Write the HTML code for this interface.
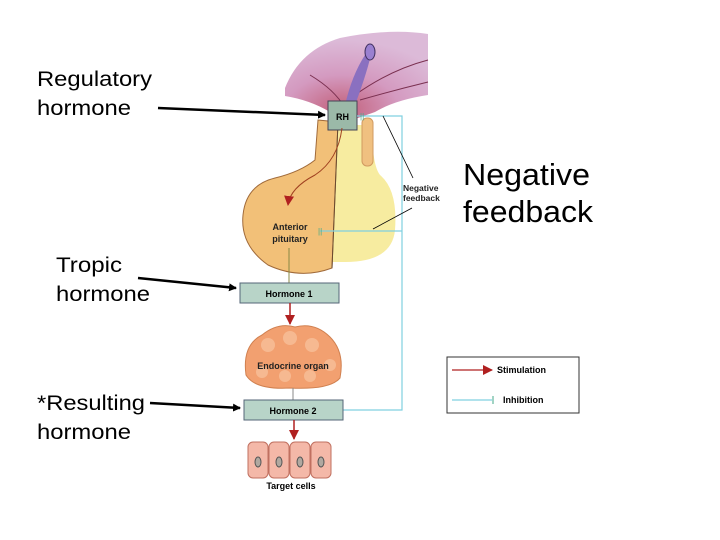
<!DOCTYPE html>
<html><head><style>
html,body{margin:0;padding:0;background:#fff;}
svg{display:block;}
</style></head><body>
<svg width="720" height="540" viewBox="0 0 720 540" xmlns="http://www.w3.org/2000/svg" font-family="Liberation Sans, sans-serif">
<defs>
<marker id="blk" markerWidth="8" markerHeight="8" refX="7" refY="4" orient="auto" markerUnits="userSpaceOnUse"><path d="M0,0 L8,4 L0,8 z" fill="#000"/></marker>
<marker id="red" markerWidth="10" markerHeight="10" refX="9" refY="5" orient="auto" markerUnits="userSpaceOnUse"><path d="M0,0 L10,5 L0,10 z" fill="#b02020"/></marker>
<radialGradient id="pur" cx="0.4" cy="0.9" r="0.8"><stop offset="0" stop-color="#c2607a"/><stop offset="0.5" stop-color="#d49ac0"/><stop offset="1" stop-color="#dcbad8"/></radialGradient>
</defs>
<path d="M285,88 Q300,50 340,38 Q390,28 428,34 L428,95 Q395,100 375,112 L358,118 L330,112 Q310,100 285,96 Z" fill="url(#pur)"/>
<path d="M310,75 Q335,90 345,108 M355,95 Q390,70 428,60 M360,100 Q395,90 428,82" stroke="#7a3050" stroke-width="1" fill="none"/>
<path d="M345,105 Q352,75 365,55 Q375,40 372,50 Q368,70 355,105 Z" fill="#8a70c0"/>
<ellipse cx="370" cy="52" rx="5" ry="8" fill="#9a80d0" stroke="#403060"/>
<path d="M335,125 L372,125 Q372,165 380,175 Q398,190 395,230 Q392,262 345,262 L330,262 Q328,200 335,125 Z" fill="#f7eca0"/>
<path d="M318,120 L338,122 Q335,200 332,268 Q300,280 268,265 Q240,245 243,215 Q246,185 275,178 Q300,172 315,160 Z" fill="#f2c078" stroke="#a06a3a" stroke-width="1"/>
<path d="M338,122 Q335,200 332,268" stroke="#6a4a30" stroke-width="1" fill="none"/>
<rect x="362" y="118" width="11" height="48" rx="5" fill="#f0c080" stroke="#d09a60"/>
<rect x="328" y="101" width="29" height="29" fill="#9bb9a8" stroke="#445"/>
<text x="342.5" y="120" font-size="9" font-weight="bold" text-anchor="middle">RH</text>
<path d="M342,128 Q338,160 315,175 Q290,188 288,205" stroke="#a04020" stroke-width="1" fill="none" marker-end="url(#red)"/>
<text x="290" y="230" font-size="9" font-weight="bold" text-anchor="middle" fill="#222">Anterior</text>
<text x="290" y="242" font-size="9" font-weight="bold" text-anchor="middle" fill="#222">pituitary</text>
<line x1="289" y1="248" x2="289" y2="283" stroke="#884" stroke-width="1"/>
<path d="M357,116 L402,116 L402,410 L343,410 M320,231 L402,231" stroke="#80d0e0" stroke-width="1.2" fill="none"/>
<text x="360" y="119" font-size="8" fill="#4a8">||</text>
<text x="318" y="234" font-size="8" fill="#4a8">||</text>
<line x1="383" y1="116" x2="413" y2="178" stroke="#000" stroke-width="0.8"/>
<line x1="373" y1="229" x2="412" y2="208" stroke="#000" stroke-width="0.8"/>
<text x="403" y="191" font-size="8.5" font-weight="bold" fill="#222">Negative</text>
<text x="403" y="201" font-size="8.5" font-weight="bold" fill="#222">feedback</text>
<rect x="240" y="283" width="99" height="20" fill="#b8d4c8" stroke="#567"/>
<text x="289" y="297" font-size="9" font-weight="bold" text-anchor="middle">Hormone 1</text>
<line x1="290" y1="303" x2="290" y2="324" stroke="#b02020" stroke-width="1.5" marker-end="url(#red)"/>
<path d="M246,375 Q242,345 262,335 Q278,322 295,327 Q315,322 330,337 Q345,352 340,378 Q330,390 290,388 Q255,390 246,375 Z" fill="#f2a070" stroke="#d08050"/>
<g fill="#f8c09a" opacity="0.8"><circle cx="268" cy="345" r="7"/><circle cx="290" cy="338" r="7"/><circle cx="312" cy="345" r="7"/><circle cx="262" cy="372" r="6"/><circle cx="285" cy="376" r="6"/><circle cx="310" cy="376" r="6"/><circle cx="330" cy="365" r="6"/></g>
<text x="293" y="369" font-size="9" font-weight="bold" text-anchor="middle" fill="#222">Endocrine organ</text>
<line x1="293" y1="388" x2="293" y2="400" stroke="#888"/>
<rect x="244" y="400" width="99" height="20" fill="#b8d4c8" stroke="#567"/>
<text x="293" y="414" font-size="9" font-weight="bold" text-anchor="middle">Hormone 2</text>
<line x1="294" y1="420" x2="294" y2="439" stroke="#b02020" stroke-width="1.5" marker-end="url(#red)"/>
<g fill="#f4b8a8" stroke="#c07060">
<rect x="248" y="442" width="20" height="36" rx="5"/><rect x="269" y="442" width="20" height="36" rx="5"/><rect x="290" y="442" width="20" height="36" rx="5"/><rect x="311" y="442" width="20" height="36" rx="5"/>
</g>
<g fill="#b0a8a0" stroke="#555"><ellipse cx="258" cy="462" rx="3" ry="5"/><ellipse cx="279" cy="462" rx="3" ry="5"/><ellipse cx="300" cy="462" rx="3" ry="5"/><ellipse cx="321" cy="462" rx="3" ry="5"/></g>
<text x="291" y="489" font-size="9" font-weight="bold" text-anchor="middle">Target cells</text>
<rect x="447" y="357" width="132" height="56" fill="#fff" stroke="#333"/>
<line x1="452" y1="370" x2="492" y2="370" stroke="#b02020" stroke-width="1.2" marker-end="url(#red)"/>
<text x="497" y="373" font-size="9" font-weight="bold">Stimulation</text>
<line x1="452" y1="400" x2="492" y2="400" stroke="#80d0e0" stroke-width="1.2"/>
<line x1="493" y1="396" x2="493" y2="404" stroke="#4a8"/>
<text x="503" y="403" font-size="9" font-weight="bold">Inhibition</text>
<g font-size="21" fill="#000">
<text x="37" y="86" textLength="115" lengthAdjust="spacingAndGlyphs">Regulatory</text><text x="37" y="115" textLength="94" lengthAdjust="spacingAndGlyphs">hormone</text>
<text x="56" y="272" textLength="66" lengthAdjust="spacingAndGlyphs">Tropic</text><text x="56" y="301" textLength="94" lengthAdjust="spacingAndGlyphs">hormone</text>
<text x="37" y="410" textLength="108" lengthAdjust="spacingAndGlyphs">*Resulting</text><text x="37" y="439" textLength="94" lengthAdjust="spacingAndGlyphs">hormone</text>
</g>
<text x="463" y="185" font-size="31" textLength="127" lengthAdjust="spacingAndGlyphs">Negative</text>
<text x="463" y="222" font-size="31" textLength="130" lengthAdjust="spacingAndGlyphs">feedback</text>
<g stroke="#000" stroke-width="2.5" fill="none">
<line x1="158" y1="108" x2="325" y2="115" marker-end="url(#blk)"/>
<line x1="138" y1="278" x2="236" y2="288" marker-end="url(#blk)"/>
<line x1="150" y1="403" x2="240" y2="408" marker-end="url(#blk)"/>
</g>
</svg>
</body></html>
